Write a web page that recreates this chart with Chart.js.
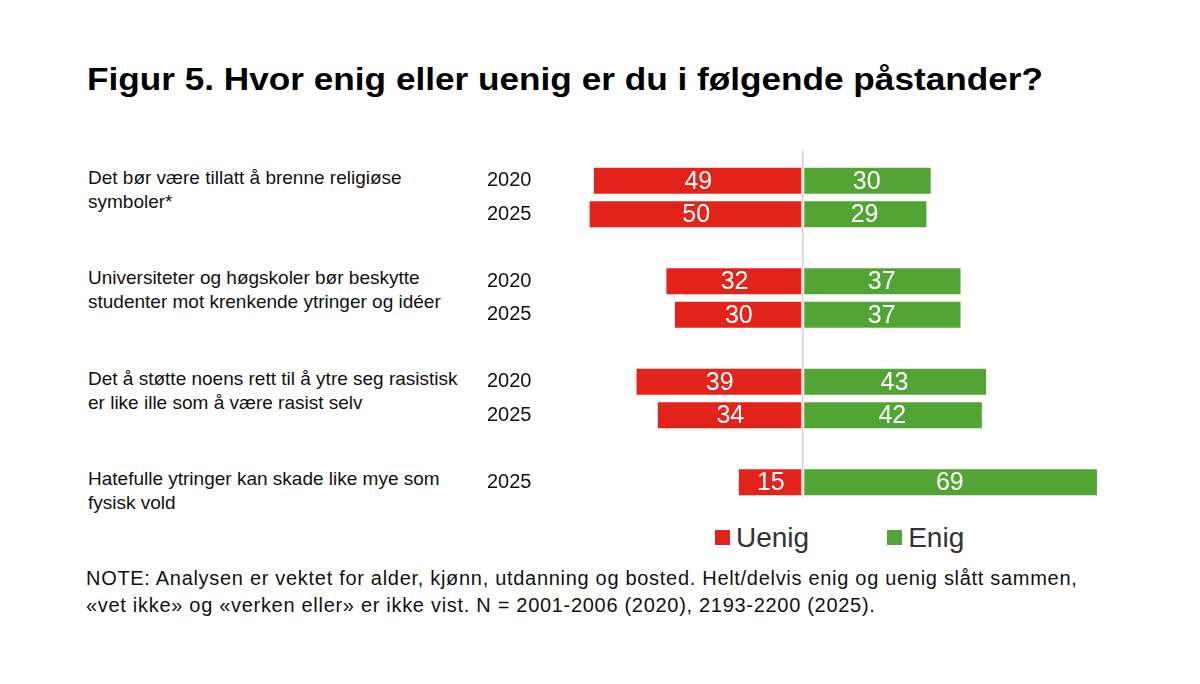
<!DOCTYPE html>
<html>
<head>
<meta charset="utf-8">
<script src="https://cdn.jsdelivr.net/npm/chart.js@4/dist/chart.umd.min.js"></script>
<style>
  body { margin: 0; background: #fff; font-family: "Liberation Sans", Arial, sans-serif; }
  #wrap { position: relative; width: 1200px; height: 684px; overflow: hidden; }
  #title { position: absolute; left: 87px; top: 62px; font-size: 31px; font-weight: bold; color: #000; white-space: nowrap; transform: scaleX(1.135); transform-origin: left top; }
  .stmt { position: absolute; left: 88px; font-size: 19px; line-height: 24px; color: #111; white-space: nowrap; }
  #legend { position: absolute; top: 522px; left: 715px; font-size: 28px; color: #333; white-space: nowrap; }
  #legend span.box { display: inline-block; width: 15px; height: 15px; margin-right: 6px; vertical-align: 2px; }
  #note { position: absolute; left: 86px; top: 565px; font-size: 20px; line-height: 27px; letter-spacing: 0.7px; color: #111; white-space: nowrap; }
  canvas { position: absolute; left: 0; top: 0; }
</style>
</head>
<body>
<div id="wrap">
  <div id="title">Figur 5. Hvor enig eller uenig er du i følgende påstander?</div>
  <div id="stmts"></div>
  <div id="legend"></div>
  <div id="note">NOTE: Analysen er vektet for alder, kjønn, utdanning og bosted. Helt/delvis enig og uenig slått sammen,<br>«vet ikke» og «verken eller» er ikke vist. N = 2001-2006 (2020), 2193-2200 (2025).</div>
  <canvas id="chart" width="1200" height="684"></canvas>
</div>
<script>
// rader (tomme rader gir luft mellom påstandene)
const years = ['2020', '2025', '', '2020', '2025', '', '2020', '2025', '', '2025'];
const uenig = [49, 50, null, 32, 30, null, 39, 34, null, 15];
const enig  = [30, 29, null, 37, 37, null, 43, 42, null, 69];

const statements = [
  ['Det bør være tillatt å brenne religiøse', 'symboler*'],
  ['Universiteter og høgskoler bør beskytte', 'studenter mot krenkende ytringer og idéer'],
  ['Det å støtte noens rett til å ytre seg rasistisk', 'er like ille som å være rasist selv'],
  ['Hatefulle ytringer kan skade like mye som', 'fysisk vold']
];
// første rad for hver påstand
const statementRow = [0, 3, 6, 9];

const seriesNames = ['Uenig', 'Enig'];
const red = '#e2231a';
const green = '#52a535';

// legend
const legendEl = document.getElementById('legend');
legendEl.innerHTML =
  '<span class="box" style="background:' + red + '"></span>' + seriesNames[0] +
  '<span style="display:inline-block;width:78px"></span>' +
  '<span class="box" style="background:' + green + '"></span>' + seriesNames[1];

// midtlinje og tallene midt i stolpene
const valueLabels = {
  id: 'valueLabels',
  afterDatasetsDraw(chart) {
    const ctx = chart.ctx;
    const x0 = chart.scales.x.getPixelForValue(0);
    ctx.save();
    ctx.strokeStyle = '#fff';
    ctx.lineWidth = 3;
    ctx.beginPath();
    ctx.moveTo(x0, 150);
    ctx.lineTo(x0, 497);
    ctx.stroke();
    ctx.strokeStyle = '#d2d2d2';
    ctx.lineWidth = 1.5;
    ctx.beginPath();
    ctx.moveTo(x0, 150);
    ctx.lineTo(x0, 497);
    ctx.stroke();

    ctx.fillStyle = '#fff';
    ctx.font = '25px "Liberation Sans", Arial, sans-serif';
    ctx.textAlign = 'center';
    ctx.textBaseline = 'middle';
    chart.data.datasets.forEach((ds, i) => {
      chart.getDatasetMeta(i).data.forEach((bar, j) => {
        const v = ds.data[j];
        if (v == null) return;
        ctx.fillText(Math.abs(v), (bar.x + bar.base) / 2, bar.y + 1);
      });
    });
    ctx.restore();
  }
};

const chart = new Chart(document.getElementById('chart'), {
  type: 'bar',
  data: {
    labels: years,
    datasets: [
      {
        label: seriesNames[0],
        data: uenig.map(v => v == null ? null : -v),
        backgroundColor: red
      },
      {
        label: seriesNames[1],
        data: enig,
        backgroundColor: green
      }
    ]
  },
  options: {
    indexAxis: 'y',
    responsive: false,
    animation: false,
    devicePixelRatio: 1,
    categoryPercentage: 1,
    barPercentage: 0.78,
    layout: { padding: { left: 487, right: 5, top: 164, bottom: 185 } },
    plugins: {
      legend: { display: false },
      tooltip: { enabled: false }
    },
    scales: {
      x: {
        display: false,
        stacked: true,
        min: -60,
        max: 92
      },
      y: {
        stacked: true,
        grid: { display: false },
        border: { display: false },
        ticks: {
          crossAlign: 'far',
          padding: 0,
          color: '#111',
          font: { family: '"Liberation Sans", Arial, sans-serif', size: 20 }
        },
        afterFit(scale) { scale.width = 60; }
      }
    }
  },
  plugins: [valueLabels]
});

// påstandene ved siden av første år i hver gruppe
const stmtEl = document.getElementById('stmts');
statements.forEach((lines, i) => {
  const d = document.createElement('div');
  d.className = 'stmt';
  const yc = chart.scales.y.getPixelForValue(statementRow[i]);
  d.style.top = (yc - 15) + 'px';
  d.innerHTML = lines.join('<br>');
  stmtEl.appendChild(d);
});
</script>
</body>
</html>
